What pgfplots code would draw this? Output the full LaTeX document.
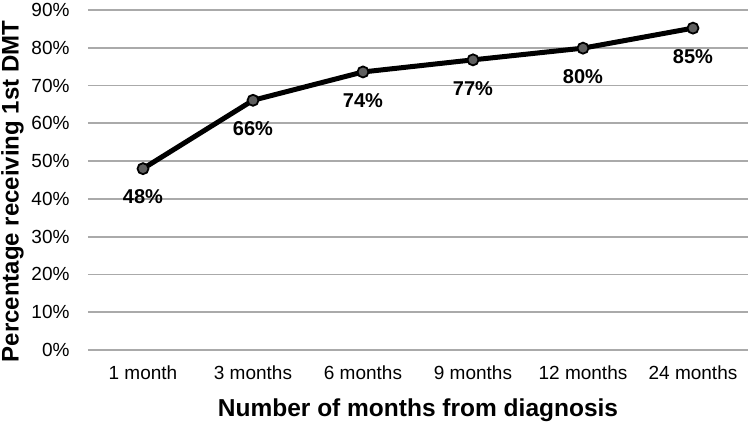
\documentclass[border=0pt]{standalone}
\usepackage{fontspec}
\setmainfont{Liberation Sans}
\usepackage{pgfplots}
\pgfplotsset{compat=1.18}
\definecolor{gridgray}{RGB}{170,170,170}
\definecolor{markgray}{RGB}{95,95,95}

\begin{document}
\begin{tikzpicture}
\useasboundingbox (-88pt,-72pt) rectangle (662pt,350pt);
\begin{axis}[at={(0,0)}, anchor=south west, scale only axis,
  width=660pt, height=340pt,
  xmin=-0.5, xmax=5.5, ymin=0, ymax=90,
  xtick={0,1,2,3,4,5},
  xticklabels={1 month, 3 months, 6 months, 9 months, 12 months, 24 months},
  ytick={0,10,...,90},
  yticklabel={\pgfmathprintnumber{\tick}\%},
  /pgf/number format/assume math mode=true,
  tick label style={font=\fontsize{19}{22}\selectfont},
  xticklabel style={anchor=center, yshift=-22.5pt},
  yticklabel style={anchor=east, xshift=-15pt},
  major tick length=0pt,
  axis line style={draw=none},
  ymajorgrids, grid style={gridgray, line width=1.8pt},
  xlabel={Number of months from diagnosis},
  ylabel={Percentage receiving 1st DMT},
  every axis x label/.style={at={(axis description cs:0.5,0)}, anchor=center,
    yshift=-60pt, font=\fontsize{24.5}{28}\selectfont\bfseries},
  every axis y label/.style={at={(axis description cs:0,0.466)}, rotate=90,
    anchor=center, yshift=75.5pt, font=\fontsize{24}{28}\selectfont\bfseries},
  clip=false]
\addplot[black, line width=5pt,
  mark=*, mark size=5.5pt,
  mark options={fill=markgray, draw=black, line width=1.8pt},
  point meta=explicit symbolic,
  nodes near coords,
  every node near coord/.append style={anchor=north, yshift=-17pt,
    font=\fontsize{20}{24}\selectfont\bfseries, text=black}]
coordinates {
  (0,48.0) [48\%]
  (1,66.1) [66\%]
  (2,73.6) [74\%]
  (3,76.8) [77\%]
  (4,79.9) [80\%]
  (5,85.2) [85\%]
};
\end{axis}
\end{tikzpicture}
\end{document}
